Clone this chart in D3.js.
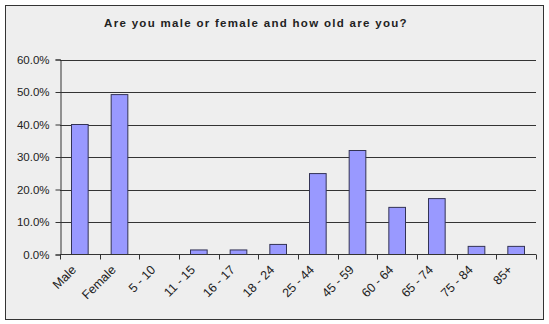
<!DOCTYPE html>
<html><head><meta charset="utf-8">
<script src="https://cdn.jsdelivr.net/npm/d3@7"></script>
<style>body{margin:0;background:#fff}svg{display:block}</style>
</head><body>
<script>
const categories = ["Male","Female","5 - 10","11 - 15","16 - 17","18 - 24","25 - 44","45 - 59","60 - 64","65 - 74","75 - 84","85+"];
const values = [40.0, 49.2, 0, 1.4, 1.4, 3.1, 24.9, 32.0, 14.5, 17.2, 2.5, 2.5];
const yTicks = [0,10,20,30,40,50,60];
const title = "Are you male or female and how old are you?";

const W = 549, H = 324;
const svg = d3.select("body").append("svg").attr("width", W).attr("height", H);
svg.append("rect").attr("x",5.5).attr("y",5.5).attr("width",538).attr("height",314)
  .attr("fill","#eeeeee").attr("stroke","#333333").attr("stroke-width",1);

svg.append("text").attr("x",256).attr("y",27).attr("text-anchor","middle")
  .attr("font-family","Arial, Liberation Sans, sans-serif").attr("font-size",11.5)
  .attr("font-weight","bold").attr("letter-spacing","1.3px").attr("fill","#222").text(title);

const x = d3.scaleBand().domain(categories).range([60,536]).paddingInner(0).paddingOuter(0);
const y = d3.scaleLinear().domain([0,60]).range([254.5,59.5]);

const g = svg.append("g");
g.selectAll("line.grid").data(yTicks.filter(d=>d>0)).join("line")
  .attr("x1",60).attr("x2",536).attr("y1",d=>Math.round(y(d))+0.5).attr("y2",d=>Math.round(y(d))+0.5)
  .attr("stroke","#333").attr("stroke-width",1);

const bw = x.bandwidth()*0.42;
g.selectAll("rect.bar").data(categories.map((c,i)=>({c,v:values[i]})).filter(d=>d.v>0)).join("rect")
  .attr("x",d=>x(d.c)+x.bandwidth()/2-bw/2).attr("width",bw)
  .attr("y",d=>y(d.v)).attr("height",d=>y(0)-y(d.v))
  .attr("fill","#9999ff").attr("stroke","#333355").attr("stroke-width",1);

const yAxis = d3.axisLeft(y).tickValues(yTicks).tickSize(5).tickFormat(d=>d.toFixed(1)+"%");
const ya = svg.append("g").attr("transform","translate(60.5,0)").call(yAxis);
ya.select(".domain").attr("stroke","#333");
ya.selectAll(".tick line").attr("stroke","#333");
ya.selectAll(".tick text").attr("font-family","Arial, Liberation Sans, sans-serif").attr("font-size",11.5).attr("fill","#222").attr("x",-11);

const xa = svg.append("g").attr("transform","translate(0,"+(y(0))+")");
xa.append("line").attr("x1",60).attr("x2",536).attr("y1",0).attr("y2",0).attr("stroke","#333");
const tickPos = d3.range(categories.length+1).map(i=>60+i*x.bandwidth());
xa.selectAll("line.t").data(tickPos).join("line").attr("x1",d=>Math.round(d)+0.5).attr("x2",d=>Math.round(d)+0.5)
  .attr("y1",0).attr("y2",5).attr("stroke","#333");
xa.selectAll("text").data(categories).join("text")
  .attr("transform",d=>`translate(${x(d)+x.bandwidth()/2-6},13) rotate(-45)`)
  .attr("text-anchor","end").attr("dy","0.35em")
  .attr("font-family","Arial, Liberation Sans, sans-serif").attr("font-size",12.5).attr("fill","#222").text(d=>d);
</script>
</body></html>
